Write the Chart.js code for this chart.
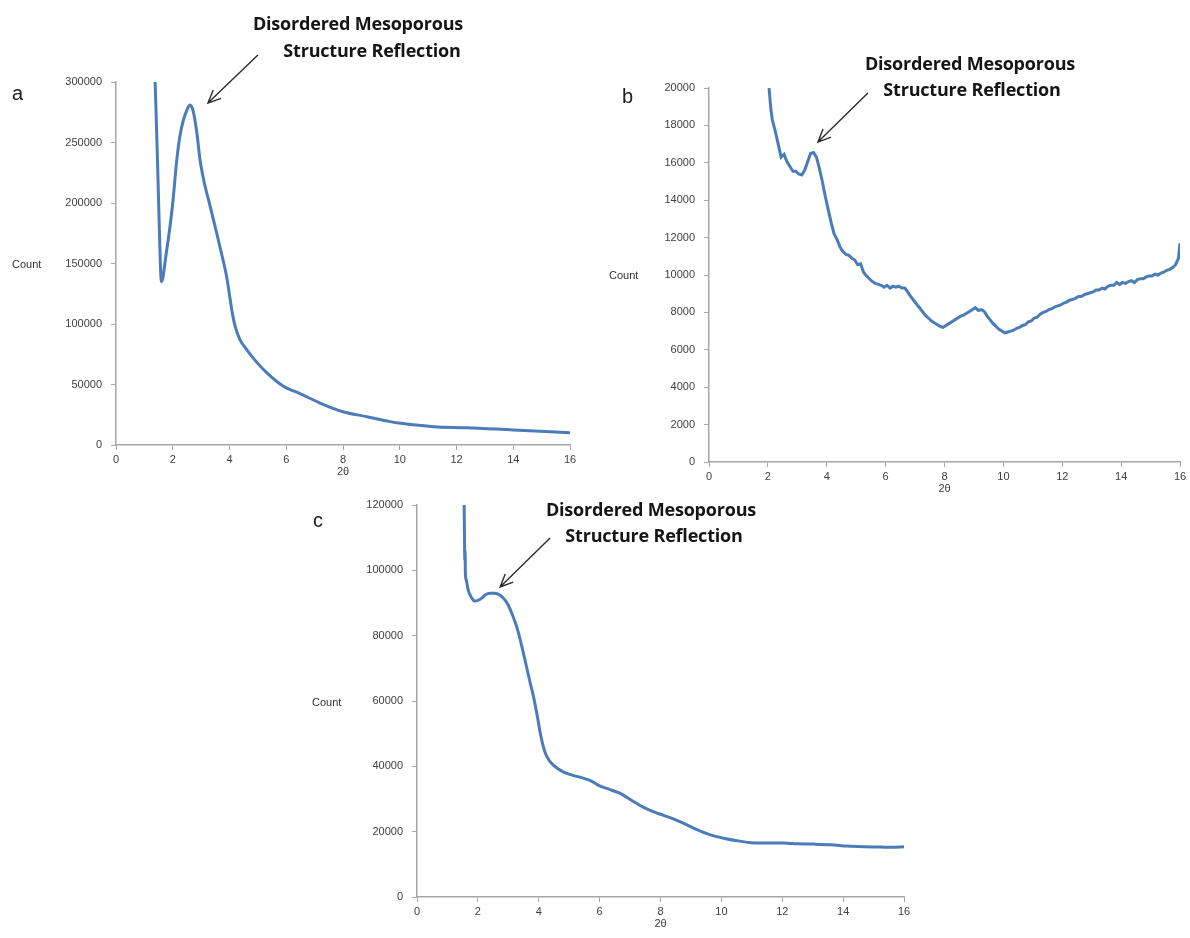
<!DOCTYPE html>
<html>
<head>
<meta charset="utf-8">
<script src="https://cdn.jsdelivr.net/npm/chart.js@4.4.1/dist/chart.umd.min.js"></script>
<style>
  body { margin: 0; background: #fff; width: 1190px; height: 938px; overflow: hidden; position: relative;
         font-family: "Liberation Sans", Arial, sans-serif; }
  canvas { position: absolute; }
  .note { position: absolute; font-family: "Open Sans", sans-serif; font-weight: 700; font-size: 18px;
          color: #151515; white-space: nowrap; transform: translate(-50%, -50%); line-height: 1;
          letter-spacing: -0.2px; }
  .panel { position: absolute; font-size: 20px; line-height: 20px; color: #222; }
  .count { position: absolute; font-size: 11px; color: #333; transform: translateY(-50%); }
</style>
</head>
<body>
<canvas id="chartA" width="600" height="490" style="left:0;top:0"></canvas>
<canvas id="chartB" width="590" height="500" style="left:600px;top:0"></canvas>
<canvas id="chartC" width="620" height="468" style="left:300px;top:470px"></canvas>

<div class="panel" style="left:12px;top:83px">a</div>
<div class="panel" style="left:622px;top:86px">b</div>
<div class="panel" style="left:313px;top:510px">c</div>

<div class="count" style="left:12px;top:264px">Count</div>
<div class="count" style="left:609px;top:275px">Count</div>
<div class="count" style="left:312px;top:702px">Count</div>

<div class="note" style="left:358px;top:23px">Disordered Mesoporous</div>
<div class="note" style="left:372px;top:50px">Structure Reflection</div>
<div class="note" style="left:970px;top:63px">Disordered Mesoporous</div>
<div class="note" style="left:972px;top:89px">Structure Reflection</div>
<div class="note" style="left:651px;top:509px">Disordered Mesoporous</div>
<div class="note" style="left:654px;top:535px">Structure Reflection</div>

<script>
// sample a
const aTheta = [1.38, 1.45, 1.52, 1.57, 1.6, 1.65, 1.75, 1.9, 2.0, 2.14, 2.25, 2.37, 2.5, 2.61, 2.72,
  2.85, 2.96, 3.1, 3.3, 3.55, 3.75, 3.9, 4.0, 4.1, 4.2, 4.35, 4.6, 4.83, 5.3, 5.9, 6.48, 7.19,
  8.0, 8.84, 9.66, 10.04, 11.2, 12.36, 14.0, 16.0];
const aCount = [300000, 245000, 185000, 145000, 135000, 138000, 155000, 180000, 200000, 235000,
  255000, 268000, 277000, 281000, 276000, 258000, 236000, 218000, 199000, 175000, 155000, 139000,
  124000, 109000, 98000, 88000, 79000, 72000, 60000, 48500, 42500, 34700, 27500, 23400, 19300,
  17900, 15100, 14300, 12400, 10200];

// sample b
const bTheta = [2.04, 2.1, 2.15, 2.25, 2.35, 2.45, 2.55, 2.65, 2.75, 2.85, 2.95, 3.05, 3.15, 3.25,
  3.35, 3.45, 3.55, 3.65, 3.75, 3.85, 3.95, 4.05, 4.15, 4.25, 4.35, 4.45, 4.55, 4.65, 4.75, 4.85,
  4.95, 5.05, 5.15, 5.25, 5.35, 5.45, 5.55, 5.65, 5.75, 5.85, 5.95, 6.05, 6.15, 6.25, 6.35, 6.45,
  6.55, 6.65, 6.75, 6.85, 6.95, 7.05, 7.15, 7.25, 7.35, 7.45, 7.55, 7.65, 7.75, 7.85, 7.95, 8.05,
  8.15, 8.25, 8.35, 8.45, 8.55, 8.65, 8.75, 8.85, 8.95, 9.05, 9.15, 9.25, 9.35, 9.45, 9.55, 9.65,
  9.75, 9.85, 9.95, 10.05, 10.15, 10.25, 10.35, 10.45, 10.55, 10.65, 10.75, 10.85, 10.95, 11.05,
  11.15, 11.25, 11.35, 11.45, 11.55, 11.65, 11.75, 11.85, 11.95, 12.05, 12.15, 12.25, 12.35, 12.45,
  12.55, 12.65, 12.75, 12.85, 12.95, 13.05, 13.15, 13.25, 13.35, 13.45, 13.55, 13.65, 13.75, 13.85,
  13.95, 14.05, 14.15, 14.25, 14.35, 14.45, 14.55, 14.65, 14.75, 14.85, 14.95, 15.05, 15.15, 15.25,
  15.35, 15.45, 15.55, 15.65, 15.75, 15.85, 15.95, 16.0];
const bCount = [20000, 18900, 18300, 17700, 17000, 16300, 16450, 16050, 15800, 15550, 15550, 15400,
  15350, 15600, 16050, 16500, 16550, 16300, 15700, 15000, 14200, 13500, 12800, 12200, 11900, 11500,
  11250, 11100, 11050, 10900, 10800, 10550, 10600, 10150, 9950, 9800, 9650, 9550, 9500, 9450, 9350,
  9450, 9300, 9400, 9350, 9400, 9300, 9300, 9100, 8850, 8650, 8450, 8250, 8050, 7850, 7700, 7550,
  7450, 7350, 7250, 7200, 7300, 7400, 7500, 7600, 7700, 7800, 7850, 7950, 8050, 8150, 8250, 8100,
  8150, 8050, 7800, 7600, 7400, 7250, 7100, 7000, 6900, 6950, 7000, 7050, 7150, 7200, 7300, 7350,
  7500, 7550, 7700, 7750, 7900, 8000, 8050, 8150, 8200, 8300, 8350, 8400, 8500, 8550, 8650, 8700,
  8750, 8850, 8850, 8950, 9000, 9050, 9100, 9200, 9200, 9300, 9250, 9400, 9450, 9450, 9600, 9500,
  9600, 9550, 9650, 9700, 9600, 9750, 9800, 9800, 9900, 9950, 9950, 10050, 10000, 10100, 10150,
  10250, 10300, 10400, 10550, 10900, 11700];

// sample c
const cTheta = [1.55, 1.56, 1.57, 1.58, 1.59, 1.62, 1.68, 1.8, 1.9, 2.0, 2.13, 2.25, 2.4, 2.55, 2.73,
  2.9, 3.0, 3.15, 3.28, 3.45, 3.6, 3.72, 3.83, 3.95, 4.05, 4.15, 4.27, 4.5, 4.8, 5.1, 5.46, 5.7,
  6.0, 6.3, 6.6, 6.78, 7.1, 7.43, 7.8, 8.1, 8.4, 8.75, 9.2, 9.64, 10.07, 10.6, 11.18, 12.04, 12.5,
  13.03, 13.6, 14.14, 14.7, 15.23, 15.6, 16.0];
const cCount = [120000, 110000, 103000, 106000, 99000, 97000, 94000, 91500, 90600, 90800, 91500,
  92500, 93000, 93000, 92400, 90800, 89300, 86000, 82600, 76500, 70400, 65500, 61200, 55500, 50200,
  46000, 42900, 40200, 38300, 37300, 36400, 35600, 34000, 33000, 32000, 31200, 29300, 27500, 26000,
  25000, 24000, 22600, 20600, 19000, 18000, 17100, 16500, 16500, 16300, 16200, 16000, 15600, 15400,
  15300, 15200, 15400];

const xTicks = [0, 2, 4, 6, 8, 10, 12, 14, 16];

const lineColor = "#4a7cb9";
const axisColor = "#a6a6a6";
const textColor = "#404040";

// arrow pointing at the reflection, tip given in data units
const arrowPlugin = {
  id: "arrow",
  afterDraw(chart, args, opts) {
    const { ctx, scales } = chart;
    const hx = scales.x.getPixelForValue(opts.x);
    const hy = scales.y.getPixelForValue(opts.y);
    const tx = hx + opts.dx;
    const ty = hy + opts.dy;
    const ang = Math.atan2(ty - hy, tx - hx);
    const len = 14;
    ctx.save();
    ctx.strokeStyle = "#2b2b2b";
    ctx.lineWidth = 1.4;
    ctx.beginPath();
    ctx.moveTo(tx, ty);
    ctx.lineTo(hx, hy);
    ctx.moveTo(hx + len * Math.cos(ang - 0.42), hy + len * Math.sin(ang - 0.42));
    ctx.lineTo(hx, hy);
    ctx.lineTo(hx + len * Math.cos(ang + 0.42), hy + len * Math.sin(ang + 0.42));
    ctx.stroke();
    ctx.restore();
  },
};

function makeChart(id, xs, ys, yMax, yStep, padding, arrow, smooth) {
  const ctx = document.getElementById(id).getContext("2d");
  return new Chart(ctx, {
    type: "line",
    data: {
      datasets: [
        {
          data: xs.map((x, i) => ({ x, y: ys[i] })),
          borderColor: lineColor,
          borderWidth: 3,
          pointRadius: 0,
          tension: smooth ? 0.4 : 0,
          cubicInterpolationMode: smooth ? "monotone" : "default",
        },
      ],
    },
    options: {
      responsive: false,
      animation: false,
      devicePixelRatio: 1,
      layout: { padding },
      plugins: {
        legend: { display: false },
        tooltip: { enabled: false },
        arrow,
      },
      scales: {
        x: {
          type: "linear",
          min: 0,
          max: 16,
          afterBuildTicks: (s) => { s.ticks = xTicks.map((v) => ({ value: v })); },
          ticks: { color: textColor, font: { size: 11, family: "Liberation Sans" }, padding: 3, maxRotation: 0 },
          grid: { drawOnChartArea: false, tickLength: 5, color: axisColor },
          border: { color: axisColor, width: 1.5 },
          title: { display: true, text: "2θ", color: textColor, font: { size: 11, family: "Liberation Sans" }, padding: 0 },
          afterFit: (s) => { s.height = 34; },
        },
        y: {
          type: "linear",
          min: 0,
          max: yMax,
          ticks: {
            stepSize: yStep,
            color: textColor,
            font: { size: 11, family: "Liberation Sans" },
            padding: 9,
            callback: (v) => String(v),
          },
          grid: { drawOnChartArea: false, tickLength: 5, color: axisColor },
          border: { color: axisColor, width: 1.5 },
          afterFit: (s) => { s.width = 60; },
        },
      },
    },
    plugins: [arrowPlugin],
  });
}

makeChart("chartA", aTheta, aCount, 300000, 50000,
  { left: 56, top: 82, right: 30, bottom: 11 },
  { x: 3.24, y: 282600, dx: 50, dy: -48 }, true);

makeChart("chartB", bTheta, bCount, 20000, 2000,
  { left: 49, top: 88, right: 10, bottom: 4 },
  { x: 3.7, y: 17110, dx: 50, dy: -49 }, false);

makeChart("chartC", cTheta, cCount, 120000, 20000,
  { left: 57, top: 35, right: 16, bottom: 7 },
  { x: 2.73, y: 94900, dx: 50, dy: -49 }, true);
</script>
</body>
</html>
